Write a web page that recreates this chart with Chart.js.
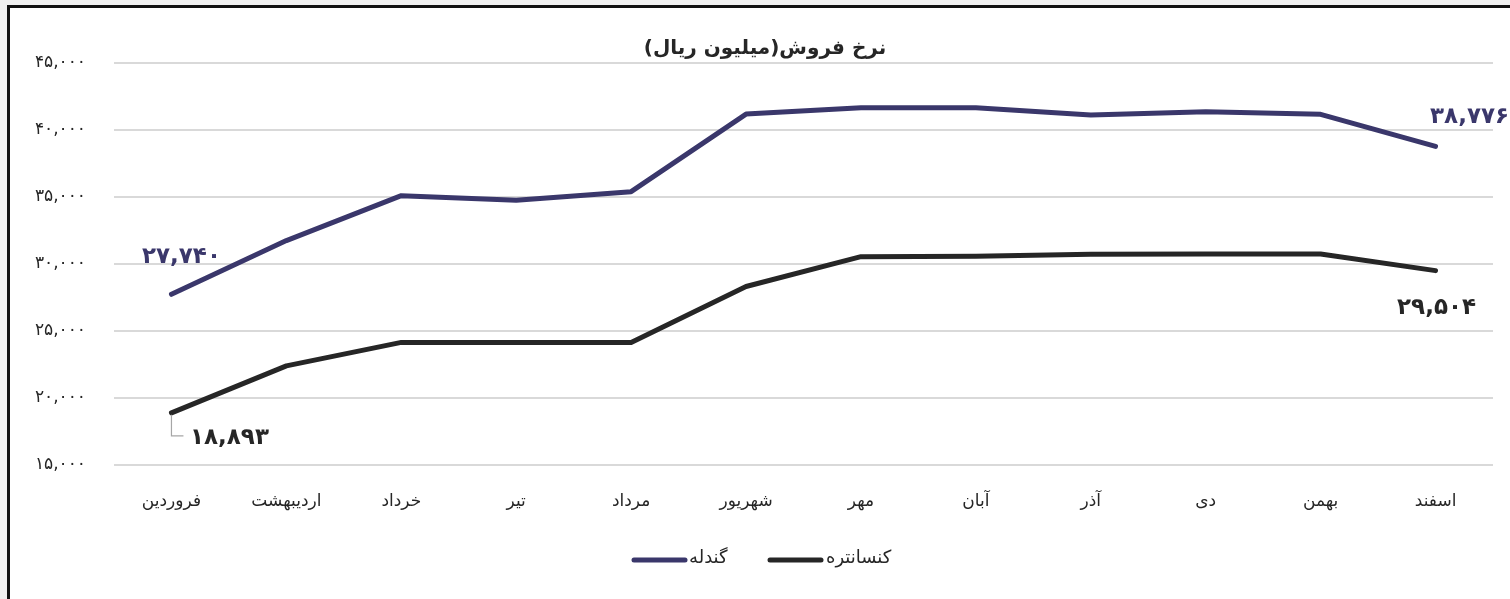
<!DOCTYPE html>
<html><head><meta charset="utf-8">
<script src="https://cdn.jsdelivr.net/npm/chart.js@4.4.1/dist/chart.umd.min.js"></script>
<style>
html,body{margin:0;padding:0;background:#f0f0f0;overflow:hidden;width:1510px;height:599px;}
#frame{position:absolute;left:7px;top:5px;width:1520px;height:620px;background:#fff;border:3px solid #111;box-sizing:border-box;}
#wrap{position:absolute;left:0;top:0;width:1510px;height:599px;}
</style></head>
<body>
<div id="frame"></div>
<div id="wrap"><canvas id="c" width="1510" height="599"></canvas></div>
<script>
const months = ['فروردین','اردیبهشت','خرداد','تیر','مرداد','شهریور','مهر','آبان','آذر','دی','بهمن','اسفند'];
const gandale = [27740, 31750, 35100, 34750, 35400, 41190, 41660, 41660, 41120, 41360, 41170, 38776];
const konsantre = [18893, 22400, 24150, 24150, 24150, 28320, 30550, 30570, 30720, 30740, 30750, 29504];
const seriesNames = ['گندله','کنسانتره'];
const titleText = 'نرخ فروش(میلیون ریال)';
const yMin = 15000, yMax = 45000, yStep = 5000;

const FONT = '"DejaVu Sans", "Noto Sans", sans-serif';
const C1 = '#3a376b', C2 = '#262626';
const fa = n => n.toLocaleString('en-US').replace(/\d/g, d => '۰۱۲۳۴۵۶۷۸۹'[d]);

const extras = {
  id: 'extras',
  afterDatasetsDraw(chart) {
    const ctx = chart.ctx;
    ctx.save();
    // title
    ctx.font = 'bold 20px ' + FONT;
    ctx.fillStyle = '#262626';
    ctx.direction = 'rtl';
    ctx.textAlign = 'center';
    ctx.textBaseline = 'middle';
    ctx.fillText(titleText, 765, 49);
    ctx.direction = 'ltr';
    // data labels
    const m0 = chart.getDatasetMeta(0).data, m1 = chart.getDatasetMeta(1).data;
    const last = m0.length - 1;
    ctx.font = 'bold 23px ' + FONT;
    ctx.fillStyle = C1;
    ctx.fillText(fa(gandale[0]), m0[0].x + 10, m0[0].y - 37);
    ctx.fillText(fa(gandale[last]), m0[last].x + 34, m0[last].y - 29);
    ctx.fillStyle = C2;
    ctx.fillText(fa(konsantre[0]), m1[0].x + 58, m1[0].y + 25);
    ctx.fillText(fa(konsantre[last]), m1[last].x + 1, m1[last].y + 37);
    // leader line
    ctx.strokeStyle = '#a6a6a6';
    ctx.lineWidth = 1.2;
    ctx.beginPath();
    ctx.moveTo(m1[0].x, m1[0].y + 2);
    ctx.lineTo(m1[0].x, m1[0].y + 23);
    ctx.lineTo(m1[0].x + 12, m1[0].y + 23);
    ctx.stroke();
    // legend
    ctx.lineCap = 'round';
    ctx.lineWidth = 5;
    ctx.font = '18px ' + FONT;
    ctx.textBaseline = 'middle';
    ctx.textAlign = 'left';
    const items = [[C1, seriesNames[0], 634, 689], [C2, seriesNames[1], 770, 826]];
    items.forEach(([col, name, x0, tx]) => {
      ctx.strokeStyle = col;
      ctx.beginPath(); ctx.moveTo(x0, 560); ctx.lineTo(x0 + 51, 560); ctx.stroke();
      ctx.fillStyle = '#262626';
      ctx.fillText(name, tx, 558);
    });
    ctx.restore();
  }
};

new Chart(document.getElementById('c'), {
  type: 'line',
  data: {
    labels: months,
    datasets: [
      {label: seriesNames[0], data: gandale, borderColor: C1, backgroundColor: C1, borderWidth: 5, pointRadius: 0, tension: 0, borderCapStyle: 'round', borderJoinStyle: 'round'},
      {label: seriesNames[1], data: konsantre, borderColor: C2, backgroundColor: C2, borderWidth: 5, pointRadius: 0, tension: 0, borderCapStyle: 'round', borderJoinStyle: 'round'}
    ]
  },
  options: {
    responsive: false,
    animation: false,
    events: [],
    layout: {padding: {left: 0, top: 63, right: 17, bottom: 0}},
    plugins: {legend: {display: false}, title: {display: false}, tooltip: {enabled: false}},
    scales: {
      x: {
        offset: true,
        grid: {display: false, drawTicks: false, offset: true},
        border: {display: false},
        ticks: {font: {family: FONT, size: 17}, color: '#262626', padding: 26, maxRotation: 0, autoSkip: false},
        afterFit: s => { s.height = 134; }
      },
      y: {
        min: yMin, max: yMax,
        grid: {color: '#d9d9d9', lineWidth: 2, drawTicks: false},
        border: {display: false},
        ticks: {stepSize: yStep, font: {family: FONT, size: 17}, color: '#262626', padding: 28, callback: v => fa(v)},
        afterFit: s => { s.width = 114; }
      }
    }
  },
  plugins: [extras]
});
</script>
</body></html>
